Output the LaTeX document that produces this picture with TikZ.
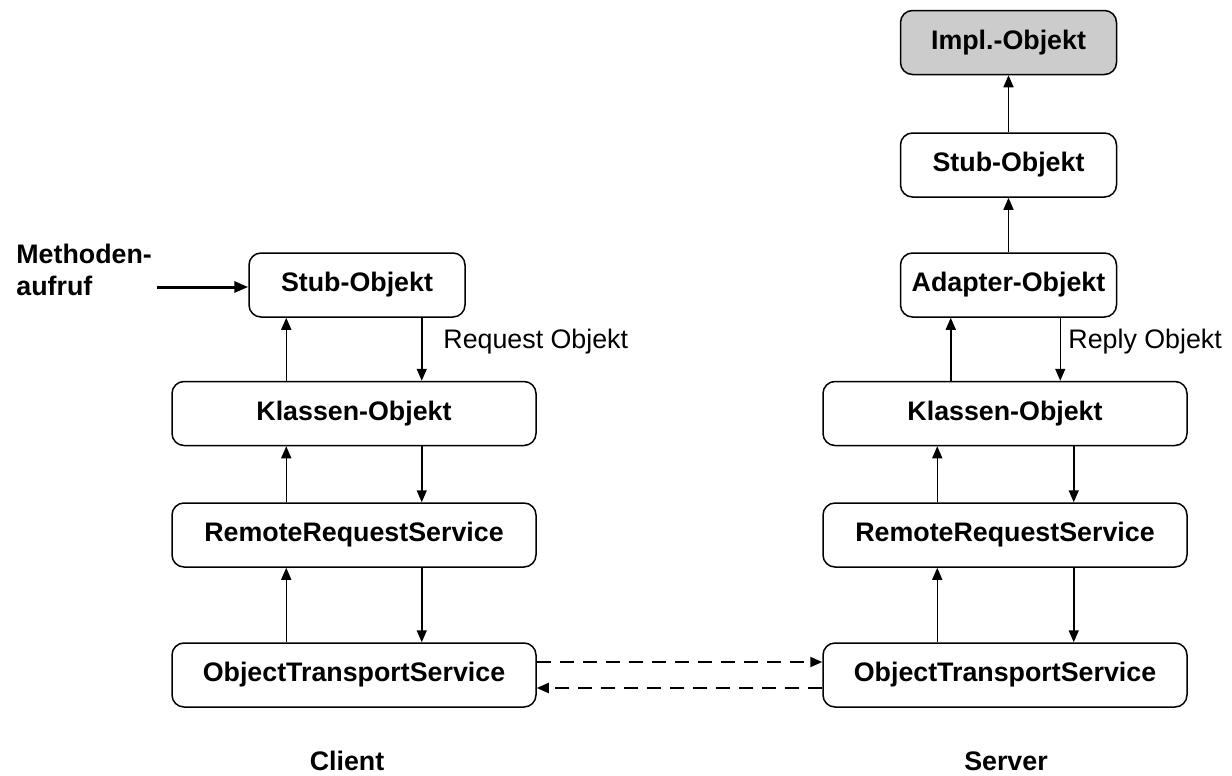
\documentclass[tikz,border=0pt]{standalone}
\usepackage{fontspec}
\setmainfont{Liberation Sans}
\usetikzlibrary{arrows.meta,calc}
\tikzstyle{obj}=[draw,rounded corners=6pt,line width=0.75pt,minimum height=32pt,inner sep=0pt,font=\fontsize{13.4}{16}\selectfont\bfseries]
\tikzstyle{smallobj}=[obj,minimum width=108pt]
\tikzstyle{wideobj}=[obj,minimum width=182pt]
\tikzstyle{edge} = [draw,line width=0.75pt,-{Triangle[length=6pt,width=5pt]}]
\tikzstyle{calledge} = [draw,line width=1.5pt,-{Triangle[length=7pt,width=5.5pt]}]
\tikzstyle{netedge} = [draw,line width=1pt,dash pattern=on 7pt off 4.5pt,-{Triangle[length=6pt,width=5pt]}]
\tikzstyle{weight} = [inner sep=0pt,font=\fontsize{13.4}{16}\selectfont]
\tikzstyle{boldweight} = [weight,font=\fontsize{13.4}{16}\selectfont\bfseries]

\begin{document}
\begin{tikzpicture}[x=0.5pt,y=-0.5pt]

    \useasboundingbox (0,0) rectangle (1232,776);

    % Client side
    \node[smallobj] (stubL) at (357,285) {Stub-Objekt};
    \foreach \pos/ \name / \label in {(354,413.5)/klassL/Klassen-Objekt, (354,535)/rrsL/RemoteRequestService, (354,675)/otsL/ObjectTransportService}
        \node[wideobj] (\name) at \pos {\label};

    % Server side
    \node[smallobj,fill=black!20] (impl) at (1008.5,42.5) {Impl.-Objekt};
    \node[smallobj] (stubR) at (1008.5,165) {Stub-Objekt};
    \node[smallobj] (adapter) at (1008.5,285) {Adapter-Objekt};
    \foreach \pos/ \name / \label in {(1005,413.5)/klassR/Klassen-Objekt, (1005,535)/rrsR/RemoteRequestService, (1005,675)/otsR/ObjectTransportService}
        \node[wideobj] (\name) at \pos {\label};

    % lanes for the up and down arrows
    \coordinate (upL) at ($(klassL.north west)+(115,0)$);
    \coordinate (downL) at ($(klassL.north east)+(-115,0)$);
    \coordinate (upR) at ($(klassR.north west)+(115,0)$);
    \coordinate (downR) at ($(klassR.north east)+(-114,0)$);
    \coordinate (upA) at ($(adapter.north west)+(51,0)$);
    \coordinate (downA) at ($(adapter.north east)+(-57,0)$);

    % Connect vertices with edges
    \foreach \source/ \dest in {klassL/stubL, rrsL/klassL, otsL/rrsL}
        \path[edge] (\source.north -| upL) -- (\dest.south -| upL);
    \foreach \source/ \dest in {stubL/klassL, klassL/rrsL, rrsL/otsL}
        \path[edge] (\source.south -| downL) -- (\dest.north -| downL);
    \foreach \source/ \dest in {rrsR/klassR, otsR/rrsR}
        \path[edge] (\source.north -| upR) -- (\dest.south -| upR);
    \foreach \source/ \dest in {klassR/rrsR, rrsR/otsR}
        \path[edge] (\source.south -| downR) -- (\dest.north -| downR);
    \path[edge] (klassR.north -| upA) -- (adapter.south -| upA);
    \path[edge] (adapter.south -| downA) -- (klassR.north -| downA);
    \path[edge] (adapter) -- (stubR);
    \path[edge] (stubR) -- (impl);

    % network
    \path[netedge] ($(otsL.east)+(0,-13)$) -- ($(otsR.west)+(0,-13)$);
    \path[netedge] ($(otsR.west)+(0,13)$) -- ($(otsL.east)+(0,13)$);

    % method call
    \node[boldweight,align=left,anchor=base west] (call) at (16,295) {Methoden-\\aufruf};
    \coordinate (callstart) at (157,287);
    \path[calledge] (callstart) -- (stubL.west |- callstart);

    \node[weight,anchor=west] (request) at (443,342) {Request Objekt};
    \node[weight,anchor=west] (reply) at (1068,342) {Reply Objekt};

    \node[boldweight,anchor=base] (client) at (347,770) {Client};
    \node[boldweight,anchor=base] (server) at (1006,770) {Server};

\end{tikzpicture}
\end{document}
